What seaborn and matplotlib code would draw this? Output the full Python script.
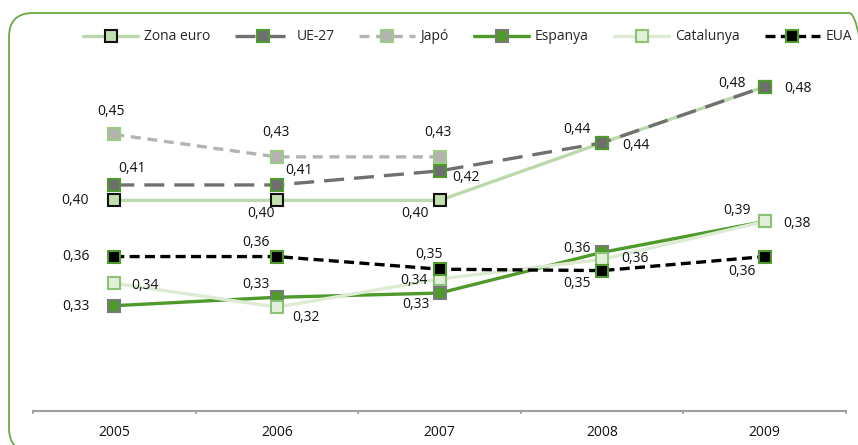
import numpy as np
import pandas as pd
import matplotlib
matplotlib.use("Agg")
import matplotlib.pyplot as plt
import seaborn as sns
from matplotlib.patches import FancyBboxPatch
from matplotlib.lines import Line2D

# dades
anys = ["2005", "2006", "2007", "2008", "2009"]
zona_euro = [0.400, 0.400, 0.400, 0.441, 0.481]
ue27 = [0.411, 0.411, 0.421, 0.441, 0.481]
japo = [0.447, 0.431, 0.431, np.nan, np.nan]
espanya = [0.325, 0.331, 0.334, 0.363, 0.385]
catalunya = [0.341, 0.324, 0.344, 0.358, 0.385]
eua = [0.360, 0.360, 0.351, 0.350, 0.360]

lbl_zona_euro = ["0,40", "0,40", "0,40", "0,44", "0,48"]
lbl_ue27 = ["0,41", "0,41", "0,42", "0,44", "0,48"]
lbl_japo = ["0,45", "0,43", "0,43", None, None]
lbl_espanya = ["0,33", "0,33", "0,33", "0,36", "0,39"]
lbl_catalunya = ["0,34", "0,32", "0,34", "0,36", "0,38"]
lbl_eua = ["0,36", "0,36", "0,35", "0,35", "0,36"]

sns.set_style("white")
plt.rcParams['font.family'] = ['Open Sans', 'DejaVu Sans']

fig = plt.figure(figsize=(8.58, 4.45), dpi=100)
ax = fig.add_axes([33 / 858, 34 / 445, 813 / 858, 351 / 445])

x = np.arange(len(anys))

# (nom, valors, etiquetes, color línia, estil, cara marcador, vora marcador, offsets)
series = [
    ("Zona euro", zona_euro, lbl_zona_euro, "#bcd9ab", "-", "#c2dfb0", "#111111",
     [(-39, 0), (-16, -13), (-25, -13), (-25, 13), (-33, 3)]),
    ("UE-27", ue27, lbl_ue27, "#707070", (0, (6, 3)), "#6e6e6e", "#4f9a2d",
     [(18, 16), (22, 14), (26, -7), (34, -3), (33, -2)]),
    ("Japó", japo, lbl_japo, "#b3b3b3", (0, (3, 2)), "#b3b3b3", "#9ccc84",
     [(-3, 23), (-1, 24), (-2, 24), (0, 0), (0, 0)]),
    ("Espanya", espanya, lbl_espanya, "#4e9a2a", "-", "#4e9a2a", "#7a7a7a",
     [(-38, -1), (-21, 13), (-24, -11), (-25, 4), (-28, 11)]),
    ("Catalunya", catalunya, lbl_catalunya, "#dcebd2", "-", "#e2efda", "#8cc276",
     [(31, -2), (29, -10), (-26, -1), (33, 1), (32, -2)]),
    ("EUA", eua, lbl_eua, "#000000", (0, (3, 1.6)), "#000000", "#4f9a2d",
     [(-38, 0), (-21, 14), (-11, 15), (-25, -13), (-23, -15)]),
]

handles = []
for nom, vals, lbls, col, ls, fc, ec, offs in series:
    df = pd.DataFrame({"x": x, "y": vals}).dropna()
    sns.lineplot(data=df, x="x", y="y", ax=ax, color=col, linestyle=ls,
                 linewidth=2.4, marker="s", markersize=8,
                 markerfacecolor=fc, markeredgecolor=ec, markeredgewidth=1.5)
    for xi, v, t, o in zip(x, vals, lbls, offs):
        if t is None or np.isnan(v):
            continue
        ax.annotate(t, (xi, v), xytext=o, textcoords="offset pixels",
                    ha="center", va="center", fontsize=10, color="#111111")
    handles.append(Line2D([], [], color=col, linestyle=ls, linewidth=2.4,
                          marker="s", markersize=8, markerfacecolor=fc,
                          markeredgecolor=ec, markeredgewidth=1.5, label=nom))

ax.set_xlim(-0.5, 4.5)
ax.set_ylim(0.25, 0.50)
ax.set_xlabel("")
ax.set_ylabel("")
ax.set_yticks([])
ax.set_xticks(x)
ax.set_xticklabels(anys, fontsize=10, color="#111111")
ax.set_xticks(np.arange(-0.5, 5.0, 1.0), minor=True)
ax.tick_params(axis="x", which="major", bottom=False, length=0, pad=10)
ax.tick_params(axis="x", which="minor", bottom=True, length=2.5, color="#a0a0a0",
               width=1.2, direction="out")
for s in ["top", "right", "left"]:
    ax.spines[s].set_visible(False)
ax.spines["bottom"].set_color("#a0a0a0")
ax.spines["bottom"].set_linewidth(1.5)
ax.patch.set_alpha(0)

fig.legend(handles=handles, loc="center", ncol=6, frameon=False,
           bbox_to_anchor=(0.545, 1 - 37 / 445), bbox_transform=fig.transFigure,
           fontsize=10, handlelength=4, columnspacing=1.8, handletextpad=0.4)

# marc arrodonit (retallat a la dreta i a baix com a l'original)
marc = FancyBboxPatch((9, -7), 864, 439, boxstyle="round,pad=0,rounding_size=24",
                      transform=None, facecolor="none", edgecolor="#6aaa45",
                      linewidth=1.3, zorder=-1)
fig.add_artist(marc)

fig.savefig("out.png", dpi=100)
